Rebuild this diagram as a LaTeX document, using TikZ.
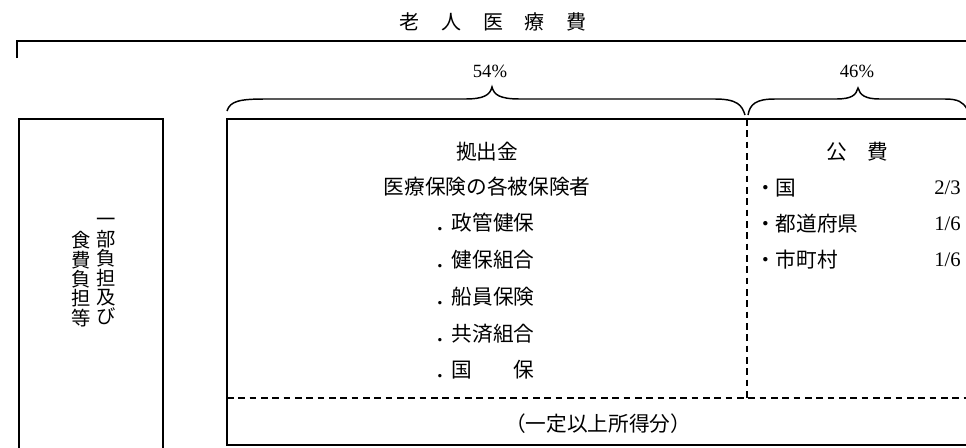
\documentclass[tikz,border=0pt]{standalone}
\usepackage{fontspec}
\setmainfont{Liberation Serif}
\newfontfamily\jp{Noto Sans CJK JP}
\begin{document}
\begin{tikzpicture}[x=0.75pt,y=-0.75pt,
  frameline/.style={line width=1.1pt,black},
  dashline/.style={line width=0.9pt,dash pattern=on 5pt off 3.5pt},
  bracepath/.style={line width=1.1pt},
  jtxt/.style={inner sep=0pt,font=\jp\fontsize{15.5}{18}\selectfont},
  ttl/.style={inner sep=0pt,font=\jp\fontsize{15}{18}\selectfont},
  vtxt/.style={inner sep=0pt,align=center,font=\jp\fontsize{14.5}{14.6}\selectfont},
  num/.style={inner sep=0pt,font=\fontsize{14}{16}\selectfont},
  frac/.style={inner sep=0pt,font=\fontsize{15.5}{18}\selectfont}]
\useasboundingbox (0,0) rectangle (966,447);
% title and top line
\node[ttl] (title) at (493,22) {老\hspace{1.08em}人\hspace{1.08em}医\hspace{1.08em}療\hspace{1.08em}費};
\coordinate (tl) at (17,58);
\coordinate (tc) at (17,41);
\coordinate (tr) at (966,41);
\draw[frameline] (tl) -- (tc) -- (tr);
% percentages
\node[num] (p54) at (490,71) {54\%};
\node[num] (p46) at (857,71) {46\%};
% braces
\draw[bracepath] (227,111) .. controls (230,101) and (240,99) .. (265,99) -- (465,99)
  .. controls (484,99) and (490,95) .. (492,87) .. controls (494,95) and (500,99) .. (520,99)
  -- (715,99) .. controls (737,99) and (742,105) .. (745,115);
\draw[bracepath] (748,115) .. controls (750,104) and (756,99) .. (775,99) -- (836,99)
  .. controls (852,99) and (856,95) .. (858,88) .. controls (860,95) and (865,99) .. (880,99)
  -- (945,99) .. controls (958,99) and (963,102) .. (967,109);
% left box (open at bottom)
\coordinate (lb1) at (19,448);
\coordinate (lb2) at (19,119);
\coordinate (lb3) at (163,119);
\coordinate (lb4) at (163,448);
\draw[frameline] (lb1) -- (lb2) -- (lb3) -- (lb4);
\node[vtxt,anchor=north] (v1) at (106,218) {一\\部\\負\\担\\及\\び};
\node[vtxt,anchor=north] (v2) at (81,231) {食\\費\\負\\担\\等};
% main box (open at right)
\coordinate (mb1) at (968,119);
\coordinate (mb2) at (227,119);
\coordinate (mb3) at (227,445);
\coordinate (mb4) at (968,445);
\draw[frameline] (mb1) -- (mb2) -- (mb3) -- (mb4);
\coordinate (dv1) at (747,119);
\coordinate (dv2) at (747,398);
\coordinate (dh1) at (227,398);
\coordinate (dh2) at (968,398);
\draw[dashline] (dv1) -- (dv2);
\draw[dashline] (dh1) -- (dh2);
% contributions
\node[jtxt] (kyo) at (487,152) {拠出金};
\node[jtxt] (iryo) at (487,187) {医療保険の各被保険者};
\node[jtxt,anchor=west] (i1) at (437,223) {{\rmfamily\bfseries .}\kern7pt 政管健保};
\node[jtxt,anchor=west] (i2) at (437,260) {{\rmfamily\bfseries .}\kern7pt 健保組合};
\node[jtxt,anchor=west] (i3) at (437,297) {{\rmfamily\bfseries .}\kern7pt 船員保険};
\node[jtxt,anchor=west] (i4) at (437,334) {{\rmfamily\bfseries .}\kern7pt 共済組合};
\node[jtxt,anchor=west] (i5) at (437,370) {{\rmfamily\bfseries .}\kern7pt 国　　保};
\node[jtxt] (shotoku) at (598,424) {（一定以上所得分）};
% public funds
\node[jtxt] (kohi) at (857,152) {公\hspace{1em}費};
\node[jtxt,anchor=west] (r1) at (755,188) {・国};
\node[jtxt,anchor=west] (r2) at (755,224) {・都道府県};
\node[jtxt,anchor=west] (r3) at (755,260) {・市町村};
\node[frac,anchor=east] (f1) at (961,188) {2/3};
\node[frac,anchor=east] (f2) at (961,224) {1/6};
\node[frac,anchor=east] (f3) at (961,260) {1/6};
\end{tikzpicture}
\end{document}
